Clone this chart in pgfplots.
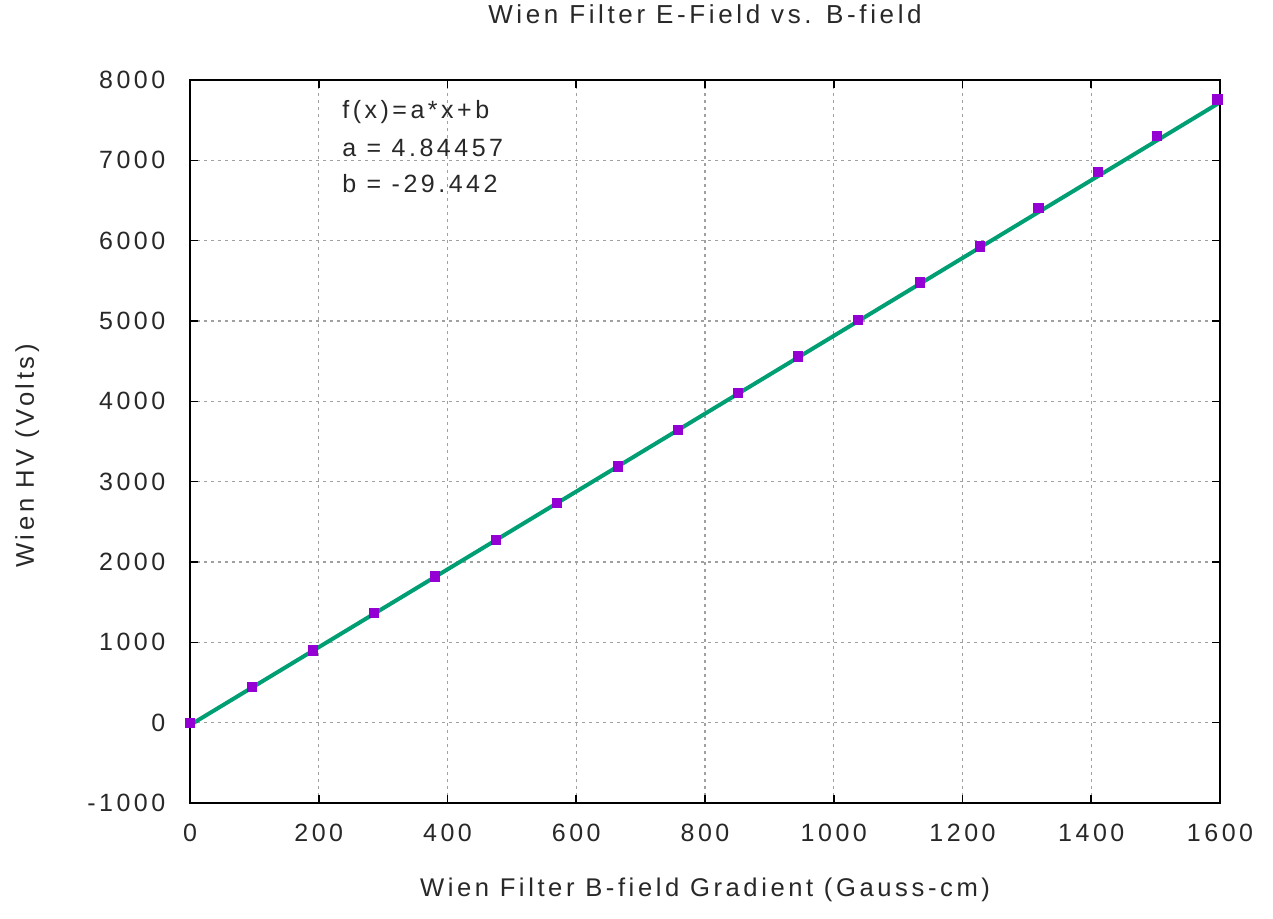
\documentclass[border=0pt]{standalone}
\usepackage{pgfplots}
\pgfplotsset{compat=1.18}
\usepackage{fontspec}
\setmainfont{Liberation Sans}[LetterSpace=14]
\definecolor{gpgreen}{RGB}{0,158,115}
\definecolor{gppurple}{RGB}{148,0,211}
\definecolor{gridgray}{RGB}{160,160,160}
\definecolor{txtgray}{RGB}{40,40,40}
\begin{document}
\fontsize{12.5}{15}\selectfont
\begin{tikzpicture}
\begin{axis}[
  scale only axis,
  width=515pt, height=361.5pt,
  xmin=0, xmax=1600, ymin=-1000, ymax=8000,
  xtick={0,200,...,1600}, ytick={-1000,0,...,8000},
  /pgf/number format/assume math mode=true,
  /pgf/number format/1000 sep={},
  every tick label/.append style={font=\fontsize{12.5}{15}\selectfont, text=txtgray},
  tick align=inside, tick pos=both,
  major tick length=4pt,
  tick style={black, line width=0.8pt},
  axis line style={black, line width=0.8pt},
  grid=major,
  major grid style={gridgray, line width=0.6pt, dash pattern=on 1.5pt off 2pt},
  xticklabel style={yshift=-6pt},
  yticklabel style={xshift=-8pt},
  title={Wien Filter E-Field vs. B-field},
  title style={font=\fontsize{13}{15}\selectfont, text=txtgray, at={(axis description cs:0.5,1.075)}, anchor=center},
  xlabel={Wien Filter B-field Gradient (Gauss-cm)},
  ylabel={Wien HV (Volts)},
  xlabel style={font=\fontsize{12.8}{15}\selectfont, text=txtgray, at={(axis description cs:0.5,-0.12)}, anchor=center},
  ylabel style={font=\fontsize{12.8}{15}\selectfont, text=txtgray, at={(axis description cs:-0.158,0.48)}, anchor=center},
]
\addplot[only marks, mark=square*, mark size=2.3pt, color=gppurple] coordinates {
(0,0) (96,450) (191,900) (286,1370) (380,1820) (475,2280) (570,2740) (665,3190)
(758,3640) (851,4110) (944,4560) (1037,5010) (1134,5480) (1227,5930) (1318,6410)
(1410,6860) (1502,7300) (1596,7760)
};
\addplot[gpgreen, line width=2pt] coordinates {(0,-29.442) (1600,7721.87)};
\node[anchor=west, inner sep=0pt, text=txtgray] at (axis cs:236,7606) {f(x)=a*x+b};
\node[anchor=west, inner sep=0pt, text=txtgray] at (axis cs:236,7158) {a = 4.84457};
\node[anchor=west, inner sep=0pt, text=txtgray] at (axis cs:236,6710) {b = -29.442};
\end{axis}
\pgfresetboundingbox
\useasboundingbox (-95pt,-57.5pt) rectangle (541.5pt,401.5pt);
\end{tikzpicture}
\end{document}
